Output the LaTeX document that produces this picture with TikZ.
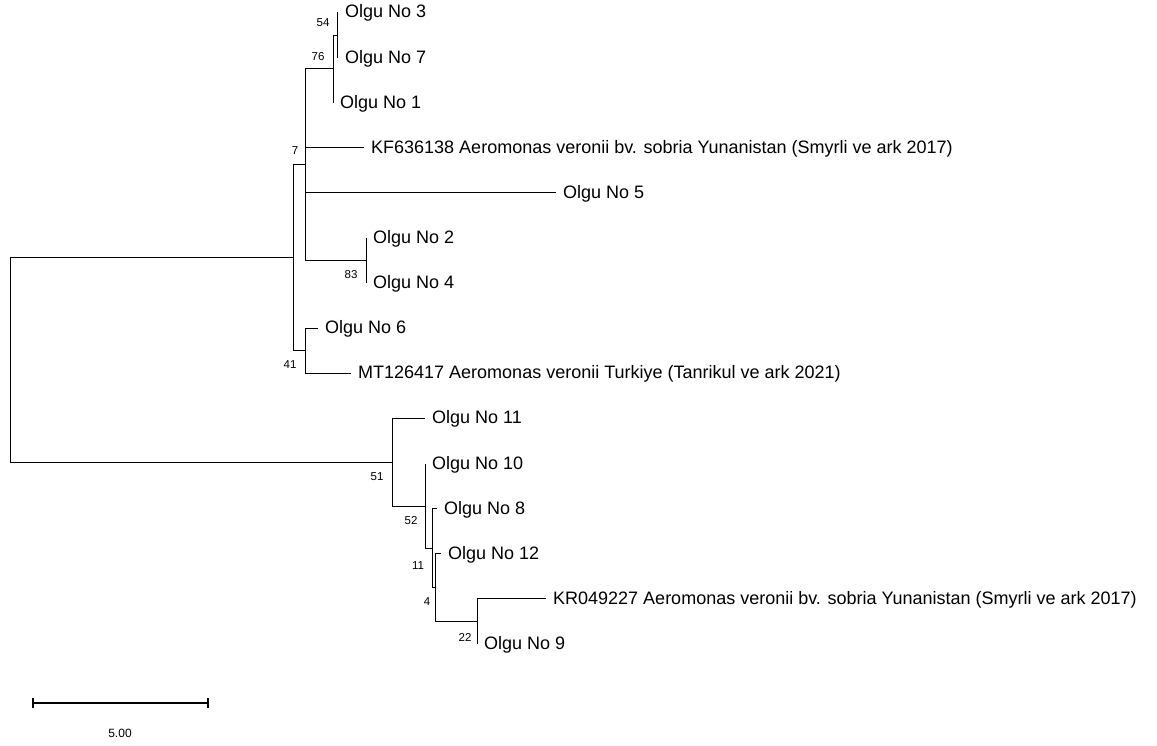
\documentclass[tikz,border=0pt]{standalone}
\usepackage{fontspec}
\setmainfont{Liberation Sans}
\usetikzlibrary{arrows.meta,positioning}

\begin{document}
\begin{tikzpicture}[
    x=1pt, y=-1pt,
    line join=miter,
    branch/.style={draw, line width=0.9pt},
    leaf/.style={
        font=\fontsize{18}{20}\selectfont,
        inner sep=0pt,
        text height=11pt,
        text depth=0pt
    },
    boot/.style={font=\fontsize{11.5}{12}\selectfont, inner sep=0pt},
    scalebar/.style={line width=1.8pt, {Bar[width=10pt]}-{Bar[width=10pt]}}
]
\useasboundingbox (0,0) rectangle (1157,746);

% =========================
% Internal nodes
% =========================
\coordinate (root) at (10,359);
\coordinate (cladeA) at (293,257.3);
\coordinate (cladeA1) at (305,164);
\coordinate (cladeA2) at (305,350.7);
\coordinate (clade137) at (333,68.9);
\coordinate (clade37) at (337,35);
\coordinate (clade24) at (366,260.5);
\coordinate (cladeB) at (392,462);
\coordinate (cladeE) at (425,506);
\coordinate (cladeF) at (432,548);
\coordinate (cladeG) at (435,587);
\coordinate (cladeH) at (477,621.3);

% =========================
% Tips
% =========================
\coordinate (tip3) at (338,12.5);
\coordinate (tip7) at (338,57.6);
\coordinate (tip1) at (333,102.7);
\coordinate (tipKF) at (364,147.8);
\coordinate (tip5) at (556,192.9);
\coordinate (tip2) at (366,238.0);
\coordinate (tip4) at (366,283.1);
\coordinate (tip6) at (318,328.2);
\coordinate (tipMT) at (351,373.3);
\coordinate (tip11) at (425,418.4);
\coordinate (tip10) at (425,463.5);
\coordinate (tip8) at (437,508.6);
\coordinate (tip12) at (441,553.7);
\coordinate (tipKR) at (546,598.8);
\coordinate (tip9) at (477,643.9);

% =========================
% Branches
% =========================
\draw[branch] (root) |- (cladeA);
\draw[branch] (root) |- (cladeB);
\draw[branch] (cladeA) |- (cladeA1);
\draw[branch] (cladeA) |- (cladeA2);
\draw[branch] (cladeA1) |- (clade137);
\draw[branch] (cladeA1) |- (tipKF);
\draw[branch] (cladeA1) |- (tip5);
\draw[branch] (cladeA1) |- (clade24);
\draw[branch] (clade137) |- (clade37);
\draw[branch] (clade137) |- (tip1);
\draw[branch] (clade37) |- (tip3);
\draw[branch] (clade37) |- (tip7);
\draw[branch] (clade24) |- (tip2);
\draw[branch] (clade24) |- (tip4);
\draw[branch] (cladeA2) |- (tip6);
\draw[branch] (cladeA2) |- (tipMT);
\draw[branch] (cladeB) |- (tip11);
\draw[branch] (cladeB) |- (cladeE);
\draw[branch] (cladeE) |- (tip10);
\draw[branch] (cladeE) |- (cladeF);
\draw[branch] (cladeF) |- (tip8);
\draw[branch] (cladeF) |- (cladeG);
\draw[branch] (cladeG) |- (tip12);
\draw[branch] (cladeG) |- (cladeH);
\draw[branch] (cladeH) |- (tipKR);
\draw[branch] (cladeH) |- (tip9);

% =========================
% Tip labels
% =========================
\node[leaf, right=7pt of tip3] (name3) {Olgu No 3};
\node[leaf, right=7pt of tip7] (name7) {Olgu No 7};
\node[leaf, right=7pt of tip1] (name1) {Olgu No 1};
\node[leaf, right=7pt of tipKF] (nameKF) {KF636138 Aeromonas veronii bv. sobria Yunanistan (Smyrli ve ark 2017)};
\node[leaf, right=7pt of tip5] (name5) {Olgu No 5};
\node[leaf, right=7pt of tip2] (name2) {Olgu No 2};
\node[leaf, right=7pt of tip4] (name4) {Olgu No 4};
\node[leaf, right=7pt of tip6] (name6) {Olgu No 6};
\node[leaf, right=7pt of tipMT] (nameMT) {MT126417 Aeromonas veronii Turkiye (Tanrikul ve ark 2021)};
\node[leaf, right=7pt of tip11] (name11) {Olgu No 11};
\node[leaf, right=7pt of tip10] (name10) {Olgu No 10};
\node[leaf, right=7pt of tip8] (name8) {Olgu No 8};
\node[leaf, right=7pt of tip12] (name12) {Olgu No 12};
\node[leaf, right=7pt of tipKR] (nameKR) {KR049227 Aeromonas veronii bv. sobria Yunanistan (Smyrli ve ark 2017)};
\node[leaf, right=7pt of tip9] (name9) {Olgu No 9};

% =========================
% Bootstrap values
% =========================
\node[boot] (bs37) at (323,23) {54};
\node[boot] (bs137) at (318,57) {76};
\node[boot] (bsA1) at (295,151) {7};
\node[boot] (bs24) at (351,275) {83};
\node[boot] (bsA2) at (290,365) {41};
\node[boot] (bsB) at (377,477) {51};
\node[boot] (bsE) at (411,521) {52};
\node[boot] (bsF) at (418,566) {11};
\node[boot] (bsG) at (427,602) {4};
\node[boot] (bsH) at (465,637) {22};

% =========================
% Scale bar
% =========================
\coordinate (barL) at (32,703);
\coordinate (barR) at (209,703);
\draw[scalebar] (barL) -- (barR);
\node[font=\fontsize{12}{13}\selectfont, below=26pt of barL, xshift=88pt, inner sep=0pt] (barText) {5.00};

\end{tikzpicture}
\end{document}
